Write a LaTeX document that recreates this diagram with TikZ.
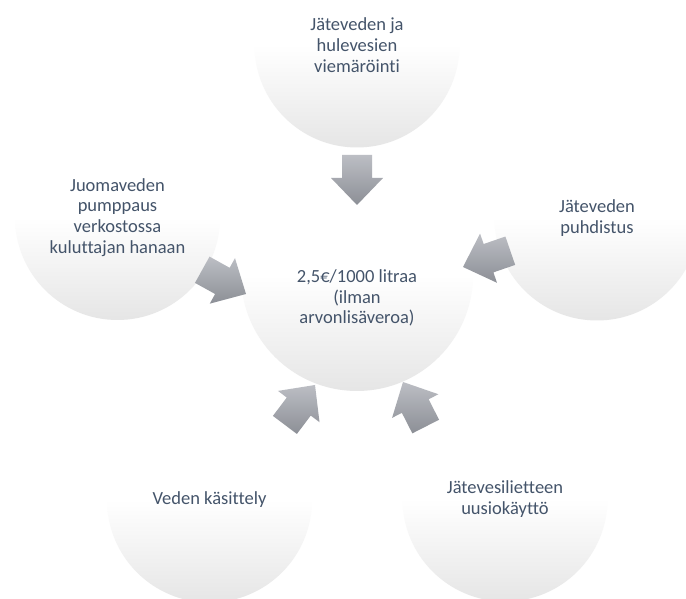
\documentclass[tikz,border=0pt]{standalone}
\usepackage{fontspec}
\setmainfont{Carlito}[Ligatures=NoCommon]
\usetikzlibrary{calc}
\definecolor{textblue}{HTML}{44546A}
\definecolor{arrowlight}{HTML}{BCBEC4}
\definecolor{arrowdark}{HTML}{8C8F96}
\tikzset{
  label text/.style={text=textblue, align=center, font=\fontsize{18.5}{20.7}\selectfont},
  stage/.style={circle, minimum size=205pt, inner sep=0pt, top color=white, bottom color=black!10, middle color=white, label text},
  hub/.style={stage, minimum size=232pt},
  flow/.style={top color=arrowlight, bottom color=arrowdark}
}
% block arrow: #1 = tip, #2 = direction
\newcommand{\inarrow}[2]{%
  \shade[flow] ($(#1)+(#2+180:27)+(#2+90:26)$) -- (#1) -- ($(#1)+(#2+180:27)+(#2-90:26)$)
    -- ($(#1)+(#2+180:27)+(#2-90:15)$) -- ($(#1)+(#2+180:50)+(#2-90:15)$)
    -- ($(#1)+(#2+180:50)+(#2+90:15)$) -- ($(#1)+(#2+180:27)+(#2+90:15)$) -- cycle;}
\begin{document}
\begin{tikzpicture}[x=1pt, y=1pt]
    \clip (0,0) rectangle (686,599);
    \fill[white] (0,0) rectangle (686,599);

    \node[hub] (mid) at (357,324) {};
    \node[label text] (midtext) at (357,301) {2,5€/1000 litraa\\(ilman\\arvonlisäveroa)};

    \node[stage] (sewer) at (357,554) {Jäteveden ja\\hulevesien\\viemäröinti};
    \node[stage] (pump) at (117.5,381.5) {Juomaveden\\pumppaus\\verkostossa\\kuluttajan hanaan};
    \node[stage] (clean) at (597,381) {Jäteveden\\puhdistus};
    \node[stage] (treat) at (209.5,99) {Veden käsittely};
    \node[stage] (sludge) at (505,100) {Jätevesilietteen\\uusiokäyttö};

    \coordinate (inSewer) at (357,394);
    \coordinate (inPump) at (246,305);
    \coordinate (inClean) at (463,332);
    \coordinate (inTreat) at (315,214);
    \coordinate (inSludge) at (403,217);

    \inarrow{inSewer}{-90}
    \inarrow{inPump}{-29}
    \inarrow{inClean}{199}
    \inarrow{inTreat}{53}
    \inarrow{inSludge}{117}
\end{tikzpicture}
\end{document}
